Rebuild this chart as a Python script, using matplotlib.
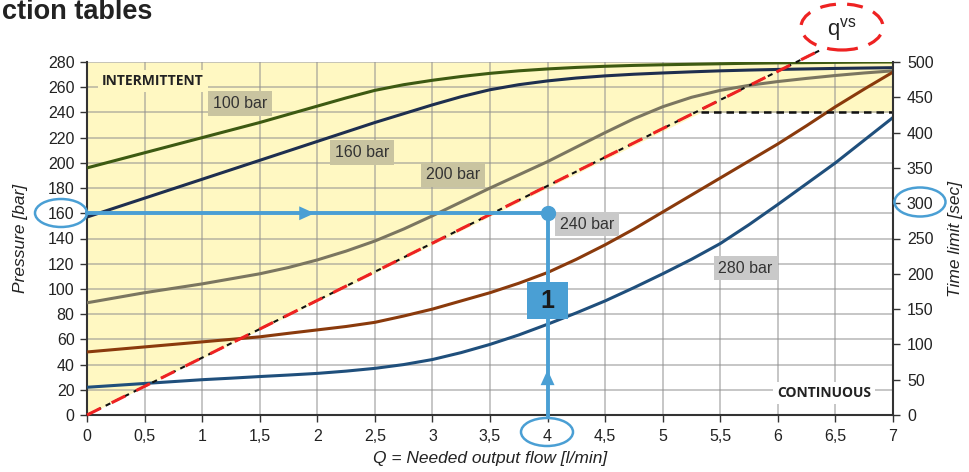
import matplotlib
matplotlib.use("Agg")
import matplotlib.pyplot as plt
from matplotlib.patches import Ellipse, Rectangle
import numpy as np

plt.rcParams['font.family'] = ['Liberation Sans', 'DejaVu Sans']

# ---- data ----
Q = [0, 0.25, 0.5, 0.75, 1, 1.25, 1.5, 1.75, 2, 2.25, 2.5, 2.75, 3, 3.25, 3.5, 3.75,
     4, 4.25, 4.5, 4.75, 5, 5.25, 5.5, 5.75, 6, 6.25, 6.5, 6.75, 7]
p100 = [196, 202, 208, 214, 220, 226, 232, 238.5, 245, 251.5, 257.5, 262, 265.5, 268.5, 271,
        273, 274.5, 275.7, 276.6, 277.3, 277.8, 278.2, 278.6, 279, 279.3, 279.5, 279.7, 279.9, 280]
p160 = [157, 164.5, 172, 179.5, 187, 194.5, 202, 209.5, 217, 224.5, 232, 239, 246, 252.5, 258,
        262, 265, 267.3, 269, 270.3, 271.3, 272.2, 273, 273.6, 274.1, 274.5, 274.9, 275.2, 275.5]
p200 = [89, 93, 97, 100.5, 104, 108, 112, 117, 123, 130, 138, 147.5, 158, 169, 180,
        190.5, 201, 212.5, 224, 235, 244.5, 252, 257.5, 261.5, 264.5, 267, 269.3, 271.3, 273]
p240 = [50, 52, 54, 56, 58, 60, 62, 64.8, 67.5, 70.2, 73.5, 78.5, 84, 90.5, 97,
        104.5, 113, 123.5, 135, 147.5, 161, 174.5, 188, 201.5, 215, 229.5, 244.5, 258.5, 272]
p280 = [22, 23.5, 25, 26.5, 28, 29.2, 30.5, 31.7, 33, 34.8, 37, 40, 44, 49.5, 56,
        63.5, 72, 81, 90.5, 101, 112, 123.5, 136, 151, 167, 183.5, 200, 218, 236]
series_labels = ["100 bar", "160 bar", "200 bar", "240 bar", "280 bar"]
series_colors = ["#3d5a12", "#1e2f4f", "#7b7660", "#8a3a0c", "#1f4f7c"]
label_pos = [(1.33, 247), (2.39, 208), (3.18, 190.5), (4.34, 151.5), (5.72, 116.5)]
label_box = ["#c9c4a0", "#c9c4a0", "#c9c4a0", "#c9c9c9", "#c9c9c9"]

# limit line (q_vs) and continuous/intermittent boundary
qvs_x = [0, 6.36]
qvs_y = [0, 289]
limit_x = [0, 5.33, 7]
limit_y = [0, 240, 240]

# example reading
ex_q = 4
ex_p = 160

x_ticks = [0, 0.5, 1, 1.5, 2, 2.5, 3, 3.5, 4, 4.5, 5, 5.5, 6, 6.5, 7]
x_ticklabels = ["0", "0,5", "1", "1,5", "2", "2,5", "3", "3,5", "4", "4,5", "5", "5,5", "6", "6,5", "7"]
y_ticks = list(range(0, 281, 20))
y2_ticks = list(range(0, 501, 50))

# ---- figure ----
fig = plt.figure(figsize=(9.69, 4.72), dpi=100)
ax = fig.add_axes([87/969, 57/472, (893-87)/969, (415-62)/472])
ax.set_xlim(0, 7)
ax.set_ylim(0, 280)

yellow = "#fff8c2"
ax.fill_between(limit_x, limit_y, 280, color=yellow, zorder=0, lw=0)

ax.set_xticks(x_ticks)
ax.set_xticklabels(x_ticklabels)
ax.set_yticks(y_ticks)
ax.grid(True, color="#8f8f8f", alpha=0.55, lw=1.3, zorder=1)
ax.tick_params(axis='both', labelsize=11.5, length=5, width=1, color="#333333",
               labelcolor="#222222", direction='out')
ax.tick_params(axis='x', pad=5)
ax.tick_params(axis='y', pad=4)
for s in ['top', 'right']:
    ax.spines[s].set_visible(False)
for s in ['left', 'bottom']:
    ax.spines[s].set_color("#333333")
    ax.spines[s].set_linewidth(1.5)

ax2 = ax.twinx()
ax2.set_ylim(0, 500)
ax2.set_yticks(y2_ticks)
ax2.tick_params(axis='y', labelsize=11.5, length=5, width=1, color="#333333",
                labelcolor="#222222", pad=5)
for s in ['top', 'left', 'bottom']:
    ax2.spines[s].set_visible(False)
ax2.spines['right'].set_color("#333333")
ax2.spines['right'].set_linewidth(1.5)

# curves
for ys, c in zip([p100, p160, p200, p240, p280], series_colors):
    ax.plot(Q, ys, color=c, lw=2.2, zorder=4, solid_capstyle='butt', solid_joinstyle='round')

# limit lines
ax.plot(limit_x[1:], limit_y[1:], color="#111111", lw=1.8, ls=(0, (3, 2)), zorder=5)
ax.plot(qvs_x, qvs_y, color="#111111", lw=1.5, ls=(0, (2.5, 2.5)), zorder=5, clip_on=False)
ax.plot(qvs_x, qvs_y, color="#ee2222", lw=2.2, ls=(0, (5, 4)), zorder=6, clip_on=False)

# series labels
for txt, (lx, ly), bc in zip(series_labels, label_pos, label_box):
    ax.text(lx, ly, txt, fontsize=11.5, color="#333333", ha='center', va='center', zorder=7,
            bbox=dict(boxstyle='square,pad=0.3', fc=bc, ec='none'))

ax.text(0.13, 265, "INTERMITTENT", fontsize=10, fontweight='bold', family=['Open Sans', 'DejaVu Sans'],
        color="#222222", ha='left', va='center', zorder=7,
        bbox=dict(boxstyle='square,pad=0.3', fc=yellow, ec='none'))
ax.text(6.4, 17.5, "CONTINUOUS", fontsize=10, fontweight='bold', family=['Open Sans', 'DejaVu Sans'],
        color="#222222", ha='center', va='center', zorder=7,
        bbox=dict(boxstyle='square,pad=0.3', fc="white", ec='none'))

# example reading lines
blue = "#4a9fd4"
ax.plot([0, ex_q], [ex_p, ex_p], color=blue, lw=2.8, zorder=8, clip_on=False)
ax.plot([ex_q, ex_q], [0, ex_p], color=blue, lw=2.8, zorder=8, clip_on=False)
ax.plot([ex_q], [ex_p], 'o', color=blue, ms=10, zorder=9)
ax.annotate("", xy=(2.0, ex_p), xytext=(1.75, ex_p),
            arrowprops=dict(arrowstyle='-|>,head_length=1.1,head_width=0.5', color=blue, lw=0), zorder=9)
ax.annotate("", xy=(ex_q, 38), xytext=(ex_q, 25),
            arrowprops=dict(arrowstyle='-|>,head_length=1.1,head_width=0.5', color=blue, lw=0), zorder=9)
box_w = 41 / 115.14
box_h = 37 / 25.21 * 20
ax.add_patch(Rectangle((ex_q - box_w/2, 90.5 - box_h/2), box_w, box_h, fc=blue, ec='none', zorder=10))
ax.text(ex_q, 90.5, "1", fontsize=18, fontweight='bold', color="#1a1a1a", ha='center', va='center',
        zorder=11)

# ellipses (figure pixel coords)
def fig_ellipse(cx, cy, w, h, **kw):
    e = Ellipse((cx/969, 1 - cy/472), w/969, h/472, transform=fig.transFigure,
                fill=False, **kw)
    fig.add_artist(e)

fig_ellipse(61, 213, 52, 28, ec=blue, lw=1.8)
fig_ellipse(547, 432, 52, 28, ec=blue, lw=1.8)
fig_ellipse(920, 202, 51, 29, ec=blue, lw=1.8)
fig_ellipse(842, 27, 82, 46, ec="#ee2222", lw=2.3, ls=(0, (5, 3.5)))
fig.text(842/969, 1 - 30/472, r"q$^{\mathregular{vs}}$", fontsize=16, ha='center', va='center', color="#222222")

# axis labels
ax.set_ylabel("Pressure [bar]", fontsize=12.5, style='italic', color="#222222", labelpad=14)
ax2.set_ylabel("Time limit [sec]", fontsize=12.5, style='italic', color="#222222", labelpad=10)
ax.set_xlabel("Q = Needed output flow [l/min]", fontsize=12.5, style='italic', color="#222222", labelpad=5)

fig.text(0.002, 1 - 12/472, "ction tables", fontsize=19.5, fontweight='bold', ha='left', va='center',
         color="#222222")

fig.savefig("out.png", dpi=100)
